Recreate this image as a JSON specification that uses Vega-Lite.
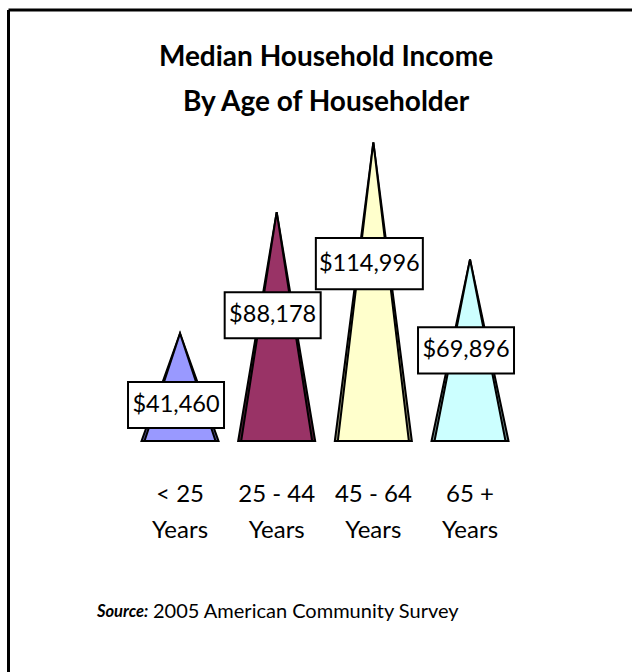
{
  "$schema": "https://vega.github.io/schema/vega-lite/v6.json",
  "width": 624,
  "height": 662.5,
  "autosize": {"type": "none"},
  "padding": {"left": 8, "top": 9.5, "right": 0, "bottom": 0},
  "background": "white",
  "config": {"view": {"stroke": null}, "font": "Lato"},
  "title": {
    "text": ["Median Household Income", "By Age of Householder"],
    "font": "Lato",
    "fontSize": 28,
    "fontWeight": "bold",
    "lineHeight": 45,
    "offset": -107,
    "anchor": "middle",
    "dx": 6,
    "color": "black"
  },
  "datasets": {
    "pyramids": [
      {"age": "< 25", "corner": "left", "income": 0},
      {"age": "< 25", "corner": "apex", "income": 41460},
      {"age": "< 25", "corner": "right", "income": 0},
      {"age": "25 - 44", "corner": "left", "income": 0},
      {"age": "25 - 44", "corner": "apex", "income": 88178},
      {"age": "25 - 44", "corner": "right", "income": 0},
      {"age": "45 - 64", "corner": "left", "income": 0},
      {"age": "45 - 64", "corner": "apex", "income": 114996},
      {"age": "45 - 64", "corner": "right", "income": 0},
      {"age": "65 +", "corner": "left", "income": 0},
      {"age": "65 +", "corner": "apex", "income": 69896},
      {"age": "65 +", "corner": "right", "income": 0}
    ],
    "incomes": [
      {"age": "< 25", "income": 41460},
      {"age": "25 - 44", "income": 88178},
      {"age": "45 - 64", "income": 114996},
      {"age": "65 +", "income": 69896}
    ]
  },
  "layer": [
    {
      "data": {"name": "pyramids"},
      "mark": {"type": "area", "stroke": "black", "strokeWidth": 2, "strokeJoin": "miter", "opacity": 1, "fillOpacity": 1},
      "encoding": {
        "x": {
          "field": "age", "type": "nominal", "title": null, "sort": null,
          "scale": {"domain": ["", "< 25", "25 - 44", "45 - 64", "65 +", " "], "paddingInner": 0, "paddingOuter": 0.2276, "align": 0.614},
          "axis": {
            "orient": "bottom", "offset": -231, "domain": false, "ticks": false, "tickSize": 0,
            "values": ["< 25", "25 - 44", "45 - 64", "65 +"],
            "labelPadding": 60, "labelBaseline": "alphabetic", "labelAngle": 0,
            "labelExpr": "[datum.label, 'Years']", "labelLineHeight": 36,
            "labelFontSize": 24, "labelFont": "Lato", "labelColor": "black", "grid": false
          }
        },
        "xOffset": {
          "field": "corner", "type": "nominal",
          "scale": {"type": "point", "padding": 0.2556, "domain": ["left", "apex", "right"]}
        },
        "y": {
          "field": "income", "type": "quantitative", "title": null,
          "scale": {"domain": [-88983, 166218], "nice": false, "zero": false},
          "axis": {
            "orient": "left", "domain": true, "domainColor": "black", "domainWidth": 3,
            "ticks": false, "labels": false, "grid": true, "gridColor": "black", "gridWidth": 3,
            "gridOpacity": 1, "values": [166218]
          }
        },
        "y2": {"datum": 0},
        "color": {
          "field": "age", "type": "nominal", "legend": null,
          "scale": {"domain": ["< 25", "25 - 44", "45 - 64", "65 +"], "range": ["#55558F", "#5C1F3D", "#99997A", "#7A9999"]}
        }
      }
    },
    {
      "data": {"name": "pyramids"},
      "mark": {"type": "area", "stroke": "black", "strokeWidth": 2, "strokeJoin": "miter", "opacity": 1, "fillOpacity": 1},
      "encoding": {
        "x": {"field": "age", "type": "nominal", "title": null, "sort": null},
        "xOffset": {
          "field": "corner", "type": "nominal",
          "scale": {"type": "point", "padding": 0.3615, "domain": ["left", "apex", "right"]}
        },
        "y": {
          "field": "income", "type": "quantitative", "title": null,
          "scale": {"domain": [-88983, 166218], "nice": false, "zero": false},
          "axis": null
        },
        "y2": {"datum": 0},
        "color": {
          "field": "age", "type": "nominal", "legend": null,
          "scale": {"domain": ["< 25", "25 - 44", "45 - 64", "65 +"], "range": ["#9999FF", "#993366", "#FFFFCC", "#CCFFFF"]}
        }
      }
    },
    {
      "data": {"name": "incomes"},
      "mark": {"type": "point", "filled": true, "fill": "white", "stroke": "black", "strokeWidth": 2, "opacity": 1, "fillOpacity": 1, "yOffset": 43.8, "xOffset": -4},
      "encoding": {
        "x": {"field": "age", "type": "nominal", "title": null, "sort": null},
        "y": {
          "field": "income", "type": "quantitative", "title": null,
          "scale": {"domain": [-120134, 224407], "nice": false, "zero": false},
          "axis": null
        },
        "size": {"condition": {"test": "datum.income > 100000", "value": 11449}, "value": 9216},
        "shape": {
          "datum": "2005 American Community Survey",
          "scale": {"range": ["M-1,-0.48L1,-0.48L1,0.48L-1,0.48Z"]},
          "legend": {
            "orient": "none", "legendX": 89, "legendY": 592,
            "title": "Source:", "titleOrient": "left", "titleFont": "Lato",
            "titleFontStyle": "italic", "titleFontWeight": "bold", "titleFontSize": 16.5,
            "titleColor": "black", "titlePadding": -16,
            "labelFont": "Lato", "labelFontSize": 20, "labelColor": "black", "labelLimit": 500,
            "symbolOpacity": 0, "symbolSize": 1, "symbolStrokeWidth": 0, "labelOffset": 0
          }
        }
      }
    },
    {
      "data": {"name": "incomes"},
      "mark": {"type": "text", "font": "Lato", "fontSize": 23.5, "baseline": "middle", "align": "center", "color": "black", "yOffset": 43.8, "xOffset": -4},
      "encoding": {
        "x": {"field": "age", "type": "nominal", "title": null, "sort": null},
        "y": {
          "field": "income", "type": "quantitative", "title": null,
          "scale": {"domain": [-120134, 224407], "nice": false, "zero": false},
          "axis": null
        },
        "text": {"field": "income", "type": "quantitative", "format": "$,.0f"}
      }
    }
  ],
  "resolve": {"scale": {"xOffset": "independent", "color": "independent", "y": "independent"}}
}
